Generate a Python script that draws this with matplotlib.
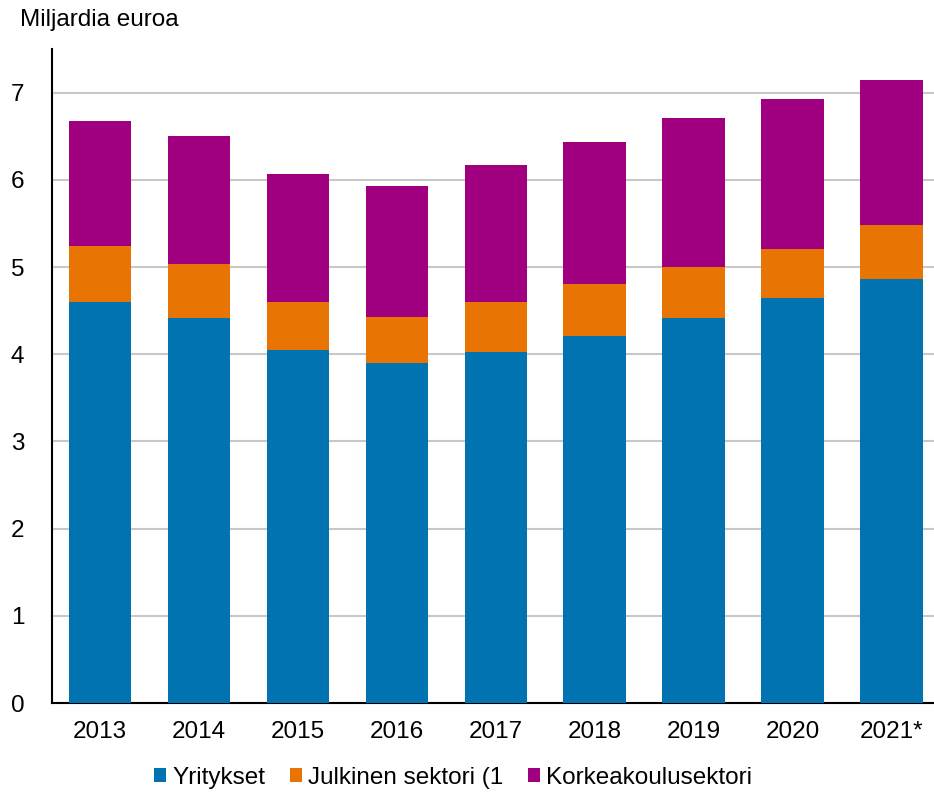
import matplotlib
matplotlib.use("Agg")
import matplotlib.pyplot as plt
from matplotlib.patches import Patch

years = ["2013", "2014", "2015", "2016", "2017", "2018", "2019", "2020", "2021*"]
yritykset = [4.60, 4.41, 4.05, 3.90, 4.02, 4.21, 4.41, 4.64, 4.86]
julkinen = [0.64, 0.62, 0.55, 0.53, 0.58, 0.60, 0.59, 0.57, 0.62]
korkeakoulu = [1.43, 1.47, 1.47, 1.50, 1.57, 1.62, 1.71, 1.72, 1.66]
series_names = ["Yritykset", "Julkinen sektori (1", "Korkeakoulusektori"]
colors = ["#0073B0", "#E87503", "#A0007F"]
yticks = [0, 1, 2, 3, 4, 5, 6, 7]

plt.rcParams['font.family'] = ['Liberation Sans', 'DejaVu Sans']
FS = 17.5

fig = plt.figure(figsize=(9.34, 7.92), dpi=100)
ax = fig.add_axes([52/934, 89/792, (934-52)/934, (703-49)/792])

x = list(range(len(years)))
w = 0.63
bottom2 = [a + b for a, b in zip(yritykset, julkinen)]
ax.bar(x, yritykset, width=w, color=colors[0], zorder=3)
ax.bar(x, julkinen, width=w, bottom=yritykset, color=colors[1], zorder=3)
ax.bar(x, korkeakoulu, width=w, bottom=bottom2, color=colors[2], zorder=3)

ax.set_xlim(-0.485, 8.43)
ax.set_ylim(0, 7.5)
ax.set_yticks(yticks)
ax.set_xticks(x)
ax.set_xticklabels(years)
ax.tick_params(axis='both', length=0, labelsize=FS, colors='#000000')
ax.tick_params(axis='x', pad=13)
ax.tick_params(axis='y', pad=20)
ax.yaxis.grid(True, color='#c8c8c8', linewidth=1.5, zorder=0)
ax.set_axisbelow(True)
for s in ['top', 'right']:
    ax.spines[s].set_visible(False)
ax.spines['left'].set_linewidth(1.5)
ax.spines['bottom'].set_linewidth(1.5)

fig.text(20/934, 1 - 20/792, "Miljardia euroa", fontsize=FS, va='center', ha='left')

handles = [Patch(facecolor=c, edgecolor='none') for c in colors]
fig.legend(handles, series_names, loc='center', bbox_to_anchor=(0.485, 1 - 778/792),
           ncol=3, frameon=False, fontsize=FS, handlelength=0.5, handleheight=0.5,
           handletextpad=0.25, columnspacing=1.0)

fig.savefig("out.png", dpi=100)
